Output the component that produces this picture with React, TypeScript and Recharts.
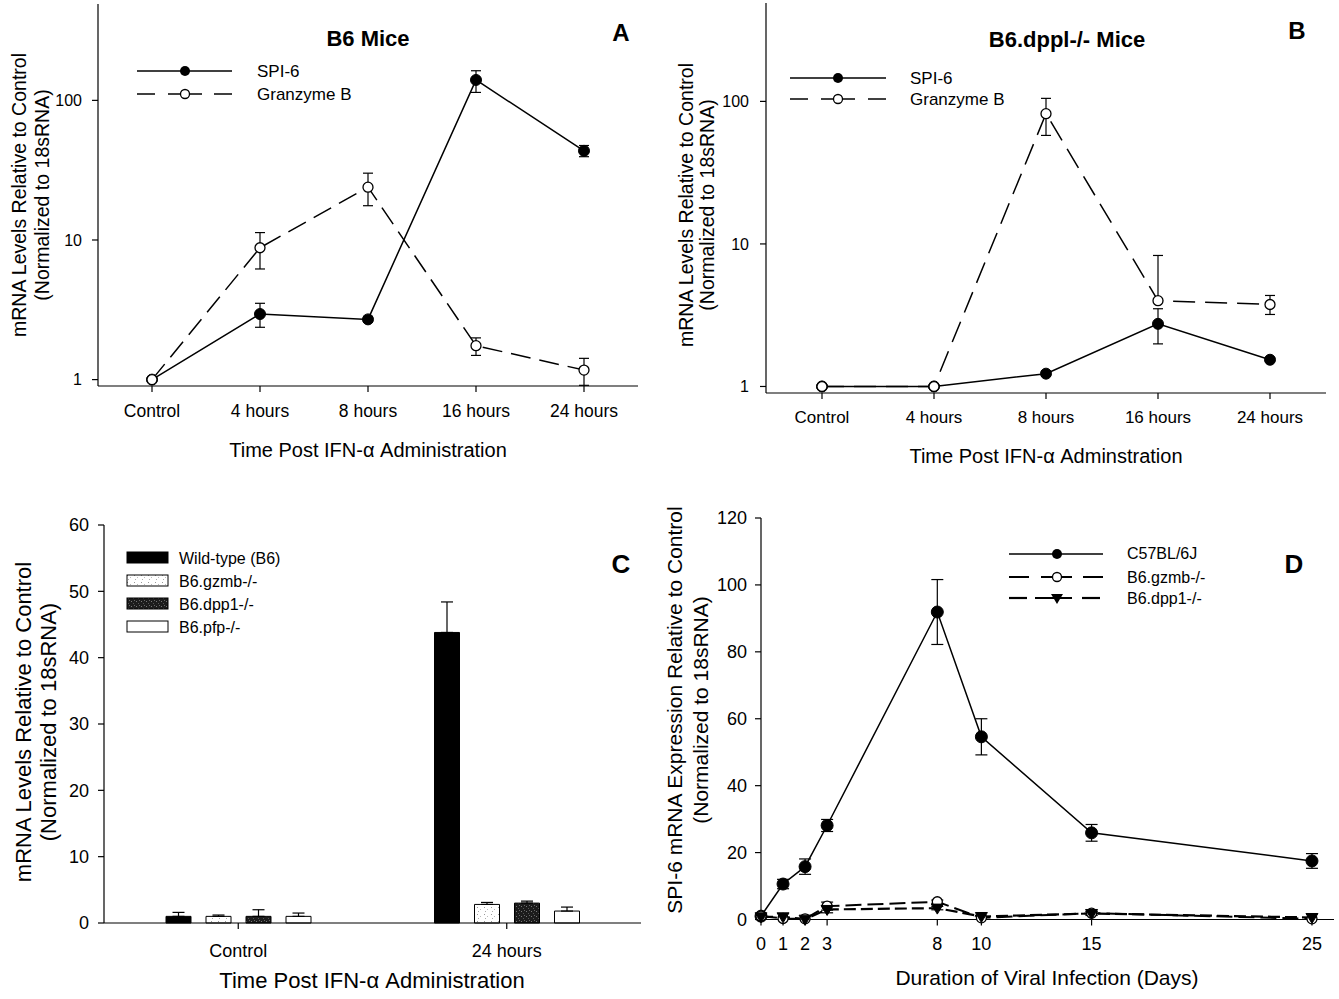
import React from "react";
import { LineChart, Line, BarChart, Bar, XAxis, YAxis, ErrorBar } from "recharts";

const FONT = "'Liberation Sans', Arial, Helvetica, sans-serif";

// time course after IFN-α (panels A and B)
const timeLabels = ["Control", "4 hours", "8 hours", "16 hours", "24 hours"];
const timeIdx = [0, 1, 2, 3, 4];
const logTicks = [1, 10, 100];

// A: B6 mice — mean, lower and upper end of the error bar
const aSpi6 = [1, 2.95, 2.7, 140, 43.5];
const aSpi6Low = [null, 2.37, 2.58, 114, 39.5];
const aSpi6High = [null, 3.52, 2.84, 163, 47.5];
const aGzmb = [1, 8.8, 23.9, 1.75, 1.17];
const aGzmbLow = [null, 6.2, 17.6, 1.49, 0.91];
const aGzmbHigh = [null, 11.3, 30.1, 1.99, 1.42];

// B: B6.dppl-/- mice
const bSpi6 = [1, 1, 1.23, 2.75, 1.54];
const bSpi6Low = [null, null, 1.18, 1.99, 1.5];
const bSpi6High = [null, null, 1.28, 3.51, 1.59];
const bGzmb = [1, 1, 82, 4.0, 3.76];
const bGzmbLow = [null, null, 57.7, 3.9, 3.2];
const bGzmbHigh = [null, null, 105, 8.3, 4.35];

// C: bars, 24 h after IFN-α
const cGroups = ["Control", "24 hours"];
const cWildType = [1.0, 43.8];
const cWildTypeErr = [0.6, 4.6];
const cGzmb = [1.0, 2.8];
const cGzmbErr = [0.2, 0.3];
const cDpp1 = [1.0, 3.0];
const cDpp1Err = [1.0, 0.3];
const cPfp = [1.0, 1.8];
const cPfpErr = [0.5, 0.6];
const cTicks = [0, 10, 20, 30, 40, 50, 60];

// D: viral infection time course
const days = [0, 1, 2, 3, 8, 10, 15, 25];
const dC57 = [1.0, 10.6, 15.8, 28.1, 91.9, 54.6, 25.9, 17.5];
const dC57Err = [0, 1.4, 2.3, 1.8, 9.7, 5.4, 2.5, 2.2];
const dGzmb = [1.0, 0.3, 0.2, 4.0, 5.3, 0.5, 1.9, 0.2];
const dGzmbErr = [0, 0, 0, 1.2, 0.5, 0, 0.5, 0];
const dDpp1 = [0.8, 0.8, 0.1, 3.0, 3.4, 0.9, 1.8, 0.6];
const dDpp1Err = [0, 0, 0, 1.0, 0.5, 0, 0.6, 0];
const dTicks = [0, 20, 40, 60, 80, 100, 120];

const span = (v: number, lo: number | null, hi: number | null) =>
  lo == null || hi == null ? undefined : [v - lo, hi - v];

const dataA = timeIdx.map((i) => ({
  i,
  spi6: aSpi6[i],
  spi6Err: span(aSpi6[i], aSpi6Low[i], aSpi6High[i]),
  gzmb: aGzmb[i],
  gzmbErr: span(aGzmb[i], aGzmbLow[i], aGzmbHigh[i]),
}));

const dataB = timeIdx.map((i) => ({
  i,
  spi6: bSpi6[i],
  spi6Err: span(bSpi6[i], bSpi6Low[i], bSpi6High[i]),
  gzmb: bGzmb[i],
  gzmbErr: span(bGzmb[i], bGzmbLow[i], bGzmbHigh[i]),
}));

const dataC = cGroups.map((g, i) => ({
  g,
  wt: cWildType[i],
  wtErr: [0, cWildTypeErr[i]],
  gzmb: cGzmb[i],
  gzmbErr: [0, cGzmbErr[i]],
  dpp1: cDpp1[i],
  dpp1Err: [0, cDpp1Err[i]],
  pfp: cPfp[i],
  pfpErr: [0, cPfpErr[i]],
}));

const dataD = days.map((d, i) => ({
  d,
  c57: dC57[i],
  c57Err: dC57Err[i],
  gzmb: dGzmb[i],
  gzmbErr: dGzmbErr[i],
  dpp1: dDpp1[i],
  dpp1Err: dDpp1Err[i],
}));

const AX = { stroke: "#000", strokeWidth: 1.2 };
const tickStyle = (size: number) => ({ fontSize: size, fill: "#000", fontFamily: FONT });
const filledDot = (r: number) => ({ r, fill: "#000", stroke: "#000", strokeWidth: 1, strokeDasharray: "none" });
const openDot = (r: number) => ({ r, fill: "#fff", stroke: "#000", strokeWidth: 1.3, strokeDasharray: "none" });

function TriangleDot(props: any) {
  const { cx, cy, index } = props;
  if (cx == null || cy == null) return <g key={index} />;
  return (
    <path
      key={index}
      d={`M${cx - 6},${cy - 4} L${cx + 6},${cy - 4} L${cx},${cy + 6} Z`}
      fill="#000"
      stroke="#000"
      strokeWidth={1}
    />
  );
}

// top and right edges of the plot box
const frameAxes = () => [
  <XAxis key="ft" xAxisId="top" orientation="top" type="number" domain={[0, 1]} height={0} tick={false} tickLine={false} axisLine={AX} />,
  <YAxis key="fr" yAxisId="right" orientation="right" type="number" domain={[0, 1]} width={0} tick={false} tickLine={false} axisLine={AX} />,
];

function LogPanel({ data, w, h, margin, yWidth, xTickMargin, yTickMargin, fs, yfs, dash }: any) {
  return (
    <LineChart width={w} height={h} data={data} margin={margin}>
      <XAxis
        dataKey="i"
        type="number"
        domain={[-0.5, 4.5]}
        ticks={timeIdx}
        interval={0}
        tickFormatter={(v: number) => timeLabels[v]}
        height={30}
        tickSize={6}
        tickMargin={xTickMargin}
        axisLine={AX}
        tickLine={AX}
        tick={tickStyle(fs)}
      />
      <YAxis
        type="number"
        scale="log"
        domain={[0.9, 490]}
        allowDataOverflow
        ticks={logTicks}
        interval={0}
        width={yWidth}
        tickSize={6}
        tickMargin={yTickMargin}
        axisLine={AX}
        tickLine={AX}
        tick={tickStyle(yfs)}
      />
      {frameAxes()}
      <Line dataKey="spi6" stroke="#000" strokeWidth={1.5} dot={filledDot(5.5)} isAnimationActive={false}>
        <ErrorBar dataKey="spi6Err" direction="y" width={5} stroke="#000" strokeWidth={1.2} />
      </Line>
      <Line dataKey="gzmb" stroke="#000" strokeWidth={1.5} strokeDasharray={dash} dot={openDot(5)} isAnimationActive={false}>
        <ErrorBar dataKey="gzmbErr" direction="y" width={5} stroke="#000" strokeWidth={1.2} />
      </Line>
    </LineChart>
  );
}

function PanelC() {
  return (
    <BarChart width={660} height={499} data={dataC} margin={{ top: 25, right: 19, bottom: 46, left: 0 }} barSize={25} barGap={15}>
      <defs>
        <pattern id="stipLight" width="7" height="7" patternUnits="userSpaceOnUse">
          <rect width="7" height="7" fill="#fff" />
          <rect x="1" y="1" width="1" height="1" fill="#999" />
          <rect x="4" y="3" width="1" height="1" fill="#bbb" />
          <rect x="2" y="5" width="1" height="1" fill="#aaa" />
        </pattern>
        <pattern id="stipDark" width="5" height="5" patternUnits="userSpaceOnUse">
          <rect width="5" height="5" fill="#1c1c1c" />
          <rect x="1" y="1" width="1" height="1" fill="#777" />
          <rect x="3" y="3" width="1" height="1" fill="#555" />
          <rect x="4" y="0" width="1" height="1" fill="#666" />
        </pattern>
      </defs>
      <XAxis dataKey="g" height={30} tickSize={6} tickMargin={15} axisLine={AX} tickLine={AX} tick={tickStyle(18)} interval={0} />
      <YAxis type="number" domain={[0, 60]} ticks={cTicks} interval={0} width={104} tickSize={6} tickMargin={9} axisLine={AX} tickLine={AX} tick={tickStyle(18)} />
      {frameAxes()}
      <Bar dataKey="wt" fill="#000" stroke="#000" strokeWidth={1} isAnimationActive={false}>
        <ErrorBar dataKey="wtErr" direction="y" width={6} stroke="#000" strokeWidth={1.2} />
      </Bar>
      <Bar dataKey="gzmb" fill="url(#stipLight)" stroke="#000" strokeWidth={1} isAnimationActive={false}>
        <ErrorBar dataKey="gzmbErr" direction="y" width={6} stroke="#000" strokeWidth={1.2} />
      </Bar>
      <Bar dataKey="dpp1" fill="url(#stipDark)" stroke="#000" strokeWidth={1} isAnimationActive={false}>
        <ErrorBar dataKey="dpp1Err" direction="y" width={6} stroke="#000" strokeWidth={1.2} />
      </Bar>
      <Bar dataKey="pfp" fill="#fff" stroke="#000" strokeWidth={1} isAnimationActive={false}>
        <ErrorBar dataKey="pfpErr" direction="y" width={6} stroke="#000" strokeWidth={1.2} />
      </Bar>
    </BarChart>
  );
}

function PanelD() {
  return (
    <LineChart width={679} height={499} data={dataD} margin={{ top: 18, right: 5, bottom: 49.5, left: 0 }}>
      <XAxis dataKey="d" type="number" domain={[0, 26]} ticks={days} interval={0} height={30} tickSize={6} tickMargin={12} axisLine={AX} tickLine={AX} tick={tickStyle(18)} />
      <YAxis type="number" domain={[0, 120]} ticks={dTicks} interval={0} width={101} tickSize={6} tickMargin={8} axisLine={AX} tickLine={AX} tick={tickStyle(18)} />
      {frameAxes()}
      <Line dataKey="c57" stroke="#000" strokeWidth={1.5} dot={filledDot(6)} isAnimationActive={false}>
        <ErrorBar dataKey="c57Err" direction="y" width={6} stroke="#000" strokeWidth={1.2} />
      </Line>
      <Line dataKey="gzmb" stroke="#000" strokeWidth={2} strokeDasharray="16 6" dot={openDot(5)} isAnimationActive={false}>
        <ErrorBar dataKey="gzmbErr" direction="y" width={6} stroke="#000" strokeWidth={1.2} />
      </Line>
      <Line dataKey="dpp1" stroke="#000" strokeWidth={2.2} strokeDasharray="12 5" dot={TriangleDot} isAnimationActive={false}>
        <ErrorBar dataKey="dpp1Err" direction="y" width={6} stroke="#000" strokeWidth={1.2} />
      </Line>
    </LineChart>
  );
}

function YTitle({ x1, x2, cy, size, lines }: any) {
  return (
    <g fontSize={size}>
      <text transform={`translate(${x1},${cy}) rotate(-90)`} textAnchor="middle">{lines[0]}</text>
      <text transform={`translate(${x2},${cy}) rotate(-90)`} textAnchor="middle">{lines[1]}</text>
    </g>
  );
}

function seg(x1: number, x2: number, y: number, w = 1.5) {
  return <line key={`${x1}-${y}`} x1={x1} x2={x2} y1={y} y2={y} stroke="#000" strokeWidth={w} />;
}

function Overlay() {
  const yLab = ["mRNA Levels Relative to Control", "(Normalized to 18sRNA)"];
  return (
    <svg width={1339} height={999} style={{ position: "absolute", left: 0, top: 0, pointerEvents: "none" }} fontFamily={FONT} fill="#000">
      <defs>
        <pattern id="legLight" width="7" height="7" patternUnits="userSpaceOnUse">
          <rect width="7" height="7" fill="#fff" />
          <rect x="1" y="1" width="1" height="1" fill="#999" />
          <rect x="4" y="3" width="1" height="1" fill="#bbb" />
          <rect x="2" y="5" width="1" height="1" fill="#aaa" />
        </pattern>
        <pattern id="legDark" width="5" height="5" patternUnits="userSpaceOnUse">
          <rect width="5" height="5" fill="#1c1c1c" />
          <rect x="1" y="1" width="1" height="1" fill="#777" />
          <rect x="3" y="3" width="1" height="1" fill="#555" />
          <rect x="4" y="0" width="1" height="1" fill="#666" />
        </pattern>
      </defs>

      {/* A */}
      <text x={368} y={46} textAnchor="middle" fontSize={22} fontWeight="bold">B6 Mice</text>
      <text x={621} y={41} textAnchor="middle" fontSize={24} fontWeight="bold">A</text>
      {seg(137, 232, 71)}
      <circle cx={185} cy={71} r={5} fill="#000" />
      {[seg(137, 155, 94), seg(168, 180, 94), seg(190, 202, 94), seg(214, 232, 94)]}
      <circle cx={185} cy={94} r={4.5} fill="#fff" stroke="#000" strokeWidth={1.3} />
      <text x={257} y={77} fontSize={17}>SPI-6</text>
      <text x={257} y={100} fontSize={17}>Granzyme B</text>
      <text x={368} y={457} textAnchor="middle" fontSize={20}>Time Post IFN-α Administration</text>
      <YTitle x1={26} x2={49} cy={195} size={19.5} lines={yLab} />

      {/* B */}
      <text x={1067} y={47} textAnchor="middle" fontSize={22} fontWeight="bold">B6.dppl-/- Mice</text>
      <text x={1297} y={39} textAnchor="middle" fontSize={24} fontWeight="bold">B</text>
      {seg(790, 886, 78)}
      <circle cx={838} cy={78} r={5} fill="#000" />
      {[seg(790, 808, 99), seg(821, 833, 99), seg(843, 855, 99), seg(868, 886, 99)]}
      <circle cx={838} cy={99} r={4.5} fill="#fff" stroke="#000" strokeWidth={1.3} />
      <text x={910} y={84} fontSize={17}>SPI-6</text>
      <text x={910} y={105} fontSize={17}>Granzyme B</text>
      <text x={1046} y={463} textAnchor="middle" fontSize={20}>Time Post IFN-α Adminstration</text>
      <YTitle x1={693} x2={714} cy={205} size={19.5} lines={yLab} />

      {/* C */}
      <text x={621} y={573} textAnchor="middle" fontSize={26} fontWeight="bold">C</text>
      <rect x={127} y={552} width={41} height={11} fill="#000" stroke="#000" />
      <rect x={127} y={575} width={41} height={11} fill="url(#legLight)" stroke="#000" />
      <rect x={127} y={598} width={41} height={11} fill="url(#legDark)" stroke="#000" />
      <rect x={127} y={621} width={41} height={11} fill="#fff" stroke="#000" />
      <text x={179} y={564} fontSize={16}>Wild-type (B6)</text>
      <text x={179} y={587} fontSize={16}>B6.gzmb-/-</text>
      <text x={179} y={610} fontSize={16}>B6.dpp1-/-</text>
      <text x={179} y={633} fontSize={16}>B6.pfp-/-</text>
      <text x={372} y={988} textAnchor="middle" fontSize={22}>Time Post IFN-α Administration</text>
      <YTitle x1={31} x2={56} cy={722} size={22} lines={yLab} />

      {/* D */}
      <text x={1294} y={573} textAnchor="middle" fontSize={26} fontWeight="bold">D</text>
      {seg(1009, 1103, 554)}
      <circle cx={1057} cy={554} r={5} fill="#000" />
      {[seg(1009, 1029, 577, 2), seg(1041, 1052, 577, 2), seg(1062, 1072, 577, 2), seg(1083, 1103, 577, 2)]}
      <circle cx={1057} cy={577} r={4.5} fill="#fff" stroke="#000" strokeWidth={1.3} />
      {[seg(1009, 1027, 598, 2.2), seg(1035, 1072, 598, 2.2), seg(1082, 1100, 598, 2.2)]}
      <path d="M1051,594 L1063,594 L1057,604 Z" fill="#000" />
      <text x={1127} y={559} fontSize={16}>C57BL/6J</text>
      <text x={1127} y={583} fontSize={16}>B6.gzmb-/-</text>
      <text x={1127} y={604} fontSize={16}>B6.dpp1-/-</text>
      <text x={1047} y={985} textAnchor="middle" fontSize={21}>Duration of Viral Infection (Days)</text>
      <YTitle x1={682} x2={708} cy={710} size={21} lines={["SPI-6 mRNA Expression Relative to Control", "(Normalized to 18sRNA)"]} />
    </svg>
  );
}

export default function App() {
  return (
    <div style={{ position: "absolute", left: 0, top: 0, width: 1339, height: 999, background: "#fff", fontFamily: FONT }}>
      <div style={{ position: "absolute", left: 0, top: 0 }}>
        <LogPanel data={dataA} w={660} h={470} margin={{ top: 4, right: 22, bottom: 54, left: 0 }} yWidth={98} xTickMargin={13} yTickMargin={10} fs={17.5} yfs={16} dash="20 9" />
      </div>
      <div style={{ position: "absolute", left: 660, top: 0 }}>
        <LogPanel data={dataB} w={679} h={470} margin={{ top: 3, right: 13, bottom: 47, left: 0 }} yWidth={106} xTickMargin={12} yTickMargin={11} fs={17} yfs={16} dash="22 10" />
      </div>
      <div style={{ position: "absolute", left: 0, top: 500 }}>
        <PanelC />
      </div>
      <div style={{ position: "absolute", left: 660, top: 500 }}>
        <PanelD />
      </div>
      <Overlay />
    </div>
  );
}
